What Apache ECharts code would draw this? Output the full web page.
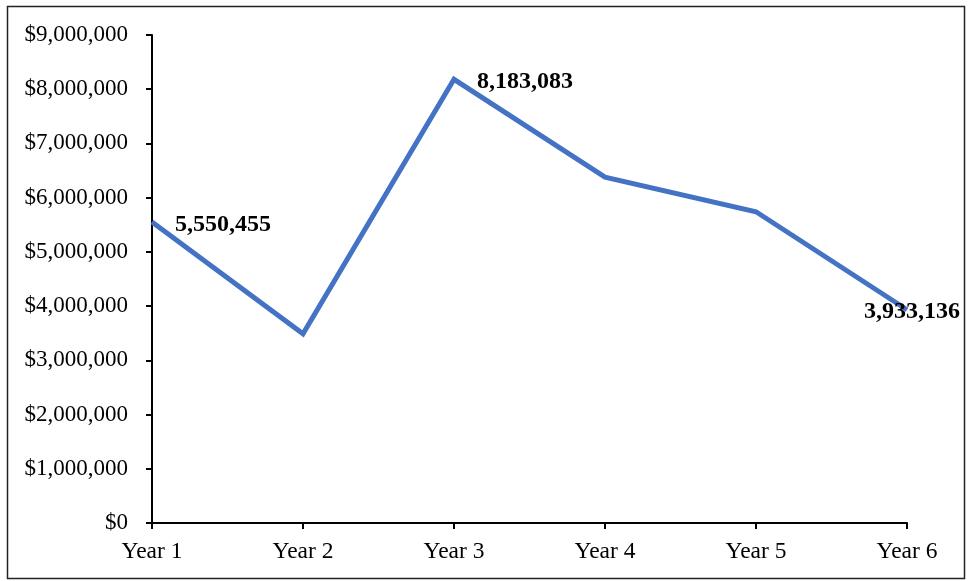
<!DOCTYPE html>
<html>
<head>
<meta charset="utf-8">
<script src="https://cdn.jsdelivr.net/npm/echarts@6/dist/echarts.min.js"></script>
<style>
  html, body { margin: 0; padding: 0; background: #fff; }
  #chart { width: 970px; height: 581px; }
</style>
</head>
<body>
<div id="chart"></div>
<script>
// Yearly totals
const categories = ['Year 1', 'Year 2', 'Year 3', 'Year 4', 'Year 5', 'Year 6'];
const values = [5550455, 3490000, 8183083, 6380000, 5740000, 3933136];
// Which points carry a value label
const labeledIndexes = [0, 2, 5];

const serif = '"Liberation Serif", "Times New Roman", serif';

function money(v) {
  return '$' + v.toLocaleString('en-US');
}

const seriesData = values.map((v, i) => {
  const item = { value: v };
  if (labeledIndexes.includes(i)) {
    const last = i === values.length - 1;
    item.label = {
      show: true,
      position: last ? 'inside' : 'right',
      distance: 22,
      offset: last ? [5, 2] : [1, 3],
      formatter: p => p.value.toLocaleString('en-US'),
      fontFamily: serif,
      fontWeight: 'bold',
      fontSize: 24,
      color: '#000'
    };
  }
  return item;
});

const chart = echarts.init(document.getElementById('chart'), null, { renderer: 'canvas' });
chart.setOption({
  backgroundColor: '#fff',
  animation: false,
  grid: { left: 152, right: 63, top: 35, bottom: 58, containLabel: false },
  xAxis: {
    type: 'category',
    data: categories,
    boundaryGap: false,
    axisLine: { lineStyle: { color: '#000', width: 2 } },
    axisTick: { show: true, length: 6, lineStyle: { color: '#000', width: 2 } },
    axisLabel: { margin: 17, fontFamily: serif, fontSize: 23.5, color: '#000' },
    splitLine: { show: false }
  },
  yAxis: {
    type: 'value',
    min: 0,
    max: 9000000,
    interval: 1000000,
    axisLine: { show: true, lineStyle: { color: '#000', width: 2 } },
    axisTick: { show: true, length: 6, lineStyle: { color: '#000', width: 2 } },
    axisLabel: { margin: 24, fontFamily: serif, fontSize: 23, color: '#000', formatter: money },
    splitLine: { show: false }
  },
  series: [{
    type: 'line',
    data: seriesData,
    symbol: 'circle',
    symbolSize: 0,
    showSymbol: true,
    lineStyle: { color: '#4472C4', width: 5, join: 'miter' },
    itemStyle: { color: '#4472C4' },
    z: 3
  }],
  graphic: [{
    type: 'rect',
    shape: { x: 7.5, y: 6.5, width: 957, height: 572 },
    style: { fill: 'none', stroke: '#222', lineWidth: 1.5 },
    silent: true
  }]
});
</script>
</body>
</html>
